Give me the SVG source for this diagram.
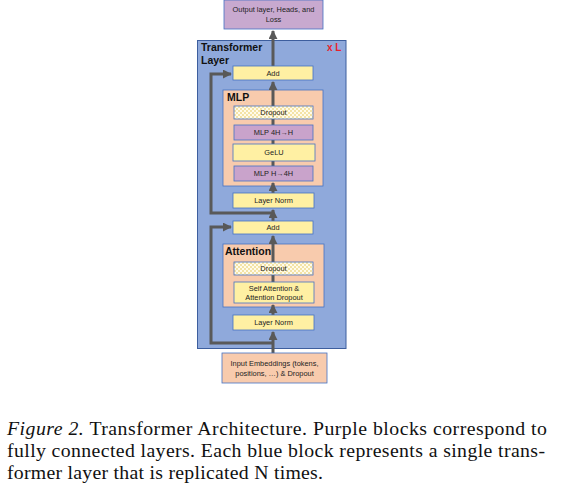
<svg xmlns="http://www.w3.org/2000/svg" width="567" height="489" viewBox="0 0 567 489">
<defs>
<pattern id="dots" width="4" height="4" patternUnits="userSpaceOnUse">
<rect width="4" height="4" fill="#FFFBEA"/>
<rect width="2" height="2" fill="#F3E3A6"/>
<rect x="2" y="2" width="2" height="2" fill="#F3E3A6"/>
</pattern>
<marker id="ah" viewBox="0 0 10 10" refX="9" refY="5" markerWidth="3" markerHeight="3" orient="auto" markerUnits="strokeWidth">
<path d="M0,0 L10,5 L0,10 z" fill="#595959"/>
</marker>
<style>
.t{font-family:"Liberation Sans","DejaVu Sans",sans-serif;font-size:7.4px;fill:#222;text-anchor:middle}
.b{font-family:"Liberation Sans","DejaVu Sans",sans-serif;font-weight:bold;font-size:10.5px;fill:#111}
.y{fill:#FFF0A3;stroke:#4472C4;stroke-width:0.8}
.p{fill:#C9A3CB;stroke:#4472C4;stroke-width:0.8}
.d{fill:url(#dots);stroke:#4472C4;stroke-width:0.8}
.pe{fill:#F8CBAD;stroke:#4472C4;stroke-width:0.8}
.c{fill:none;stroke:#595959;stroke-width:3}
.cap{font-family:"Liberation Serif","Times New Roman",serif;font-size:19.8px;fill:#111}
</style>
</defs>
<g id="transformer-layer">
<rect x="197.5" y="40.5" width="148.5" height="308" fill="#8FA9DB" stroke="#3D5E9E" stroke-width="1"/>
<text class="b" x="201" y="51">Transformer</text>
<text class="b" x="201" y="64">Layer</text>
<text x="327" y="51" font-family="Liberation Sans, sans-serif" font-weight="bold" font-size="10px" fill="#E8212B">x L</text>
</g>
<g id="output">
<rect x="224" y="0" width="99" height="29" fill="#C8A9CF" stroke="#4472C4" stroke-width="0.8"/>
<text class="t" x="273.5" y="12">Output layer, Heads, and</text>
<text class="t" x="273.5" y="22">Loss</text>
</g>
<g id="mlp">
<rect class="pe" x="223" y="90" width="100" height="96"/>
<text class="b" x="227" y="101">MLP</text>
</g>
<g id="attention">
<rect class="pe" x="223" y="244" width="101" height="63"/>
<text class="b" x="225" y="255">Attention</text>
</g>
<g id="connectors">
<line class="c" x1="273" y1="353" x2="273" y2="332" marker-end="url(#ah)"/>
<line class="c" x1="273" y1="315" x2="273" y2="305" marker-end="url(#ah)"/>
<line class="c" x1="273" y1="282" x2="273" y2="275"/>
<line class="c" x1="273" y1="262" x2="273" y2="236" marker-end="url(#ah)"/>
<line class="c" x1="273" y1="221" x2="273" y2="210" marker-end="url(#ah)"/>
<line class="c" x1="273" y1="193" x2="273" y2="183" marker-end="url(#ah)"/>
<line class="c" x1="273" y1="166" x2="273" y2="161"/>
<line class="c" x1="273" y1="144" x2="273" y2="140"/>
<line class="c" x1="273" y1="125" x2="273" y2="119"/>
<line class="c" x1="273" y1="106" x2="273" y2="82" marker-end="url(#ah)"/>
<line class="c" x1="273" y1="66" x2="273" y2="31" marker-end="url(#ah)"/>
<polyline class="c" points="273,343 211,343 211,227 231,227" marker-end="url(#ah)"/>
<polyline class="c" points="273,213 211,213 211,74 231,74" marker-end="url(#ah)"/>
</g>
<g id="add-top"><rect class="y" x="233" y="66" width="80" height="14"/><text class="t" x="273" y="75.5">Add</text></g>
<g id="mlp-dropout"><rect class="d" x="234" y="106" width="79" height="13"/><text class="t" x="273.5" y="115">Dropout</text></g>
<g id="mlp-4h-h"><rect class="p" x="234" y="125" width="79" height="15"/><text class="t" x="273.5" y="135">MLP 4H→H</text></g>
<g id="gelu"><rect class="y" x="233" y="144" width="82" height="17"/><text class="t" x="274" y="155">GeLU</text></g>
<g id="mlp-h-4h"><rect class="p" x="234" y="166" width="79" height="15"/><text class="t" x="273.5" y="176">MLP H→4H</text></g>
<g id="layernorm-2"><rect class="y" x="233" y="193" width="81" height="15"/><text class="t" x="273.5" y="203">Layer Norm</text></g>
<g id="add-bottom"><rect class="y" x="233" y="221" width="80" height="13"/><text class="t" x="273" y="230">Add</text></g>
<g id="attn-dropout"><rect class="d" x="234" y="262" width="79" height="13"/><text class="t" x="273.5" y="271">Dropout</text></g>
<g id="self-attention"><rect class="y" x="234" y="282" width="80" height="21"/><text class="t" x="274" y="290.5">Self Attention &amp;</text><text class="t" x="274" y="299.5">Attention Dropout</text></g>
<g id="layernorm-1"><rect class="y" x="233" y="315" width="81" height="15"/><text class="t" x="273.5" y="325">Layer Norm</text></g>
<g id="input">
<rect class="pe" x="222" y="353" width="105" height="30"/>
<text class="t" x="274.5" y="366">Input Embeddings (tokens,</text>
<text class="t" x="274.5" y="376">positions, …) &amp; Dropout</text>
</g>
<g id="caption">
<text class="cap" x="7" y="435" textLength="540" lengthAdjust="spacing"><tspan font-style="italic">Figure 2.</tspan> Transformer Architecture. Purple blocks correspond to</text>
<text class="cap" x="7" y="457" textLength="538" lengthAdjust="spacing">fully connected layers. Each blue block represents a single trans-</text>
<text class="cap" x="7" y="479" textLength="316" lengthAdjust="spacing">former layer that is replicated N times.</text>
</g>
</svg>
